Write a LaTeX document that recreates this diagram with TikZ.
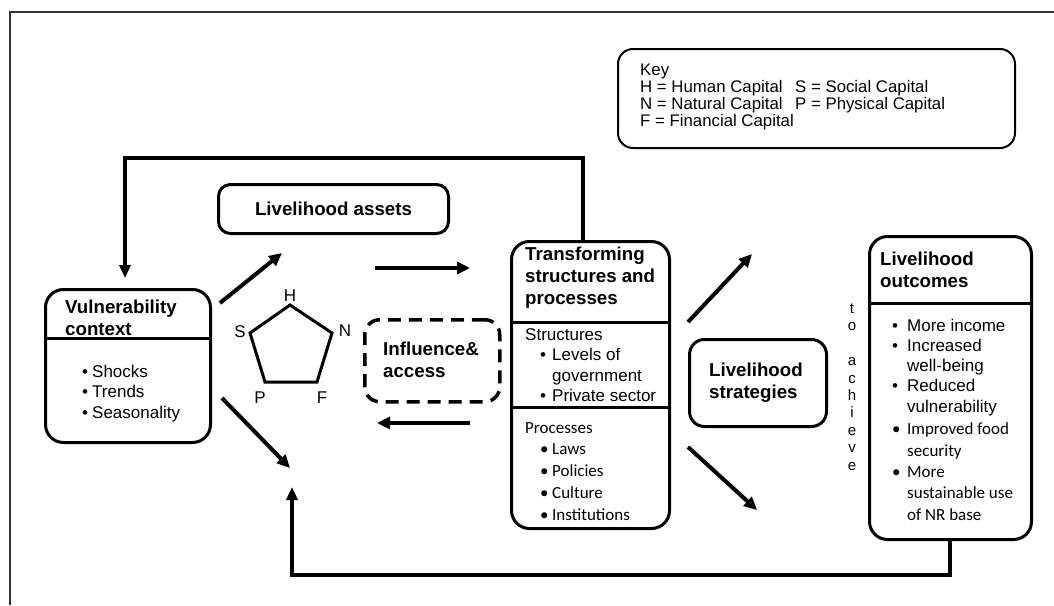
\documentclass[tikz,border=0pt]{standalone}
\usepackage{fontspec}
\setmainfont{Liberation Sans}
\newfontfamily\calibfont{Carlito}
\usetikzlibrary{arrows.meta}

% bullet with a fixed-width slot so wrapped lines line up with the text
\newcommand\bulslot[1]{\makebox[#1][l]{\textbullet}}

\begin{document}
% multi-line text nodes are placed by the baseline of their last line
\begin{tikzpicture}[x=1pt,y=-1pt,
  box/.style={draw, line width=3pt, rounded corners=18pt, inner sep=0pt, anchor=north west},
  title/.style={font=\fontsize{18.7}{22}\selectfont\bfseries, align=left, anchor=base west, inner sep=0pt},
  body/.style={font=\fontsize{17}{20.5}\selectfont, align=left, anchor=base west, inner sep=0pt},
  calbody/.style={font=\calibfont\fontsize{17}{21.8}\selectfont, align=left, anchor=base west, inner sep=0pt},
  keytxt/.style={font=\fontsize{16.8}{17}\selectfont, align=left, anchor=base west, inner sep=0pt},
  letter/.style={font=\fontsize{17}{17}\selectfont, inner sep=0pt},
  flow/.style={line width=4pt, -{Triangle[length=13pt,width=12pt]}},
  loopline/.style={line width=3.5pt, line join=miter, -{Triangle[length=13pt,width=11pt]}},
  divider/.style={line width=3pt},
]
\useasboundingbox (0,0) rectangle (1054,605);

% outer frame
\draw[line width=1.6pt, black!80] (10,605) -- (10,12) -- (1054,12);

% ---------- key ----------
\node[box, line width=2pt, rounded corners=15pt, minimum width=397pt, minimum height=99pt] (key) at (617,48) {};
\node[keytxt] (keyL) at (640,126) {Key\\H = Human Capital\\N = Natural Capital\\F = Financial Capital};
\node[keytxt] (keyR) at (795,109) {S = Social Capital\\P = Physical Capital};

% ---------- vulnerability context ----------
\node[box, minimum width=165pt, minimum height=153pt] (vuln) at (44,288) {};
\node[title] (vulnT) at (65,335) {Vulnerability\\context};
\coordinate (vdiv) at (0,338);
\draw[divider] (vuln.west |- vdiv) -- (vuln.east |- vdiv);
\node[body] (vulnL) at (82,418) {\bulslot{10pt}Shocks\\\bulslot{10pt}Trends\\\bulslot{10pt}Seasonality};

% ---------- livelihood assets ----------
\node[box, rounded corners=12pt, minimum width=230pt, minimum height=49pt,
      font=\fontsize{18.7}{22}\selectfont\bfseries] (assets) at (217,183) {Livelihood assets};

% asset pentagon
\coordinate (pH) at (290,305);
\coordinate (pN) at (332,333);
\coordinate (pF) at (317,382);
\coordinate (pP) at (265,382);
\coordinate (pS) at (250,333);
\draw[line width=3pt, line join=miter] (pH) -- (pN) -- (pF) -- (pP) -- (pS) -- cycle;
\node[letter] (lH) at (290,296) {H};
\node[letter] (lN) at (345,331) {N};
\node[letter] (lF) at (322,398) {F};
\node[letter] (lP) at (260,398) {P};
\node[letter] (lS) at (240,332) {S};

% ---------- influence & access ----------
\node[box, dash pattern=on 13pt off 8pt, line width=3.5pt, rounded corners=15pt,
      minimum width=135pt, minimum height=82pt] (infl) at (363,318) {};
\node[title] (inflT) at (383,377) {Influence\&\\access};

% ---------- transforming structures and processes ----------
\node[box, minimum width=158pt, minimum height=287pt] (trans) at (510,240) {};
\node[title] (transT) at (525,304) {Transforming\\structures and\\processes};
\coordinate (tdivA) at (0,322);
\coordinate (tdivB) at (0,407);
\draw[divider] (trans.west |- tdivA) -- (trans.east |- tdivA);
\draw[divider] (trans.west |- tdivB) -- (trans.east |- tdivB);
\node[body] (struct) at (525,401.5) {Structures\\
  \hspace*{15pt}\bulslot{12pt}Levels of\\
  \hspace*{15pt}\hspace*{12pt}government\\
  \hspace*{15pt}\bulslot{12pt}Private sector};
\node[calbody] (proc) at (525,520.2) {Processes\\
  \hspace*{15pt}\bulslot{12pt}Laws\\
  \hspace*{15pt}\bulslot{12pt}Policies\\
  \hspace*{15pt}\bulslot{12pt}Culture\\
  \hspace*{15pt}\bulslot{12pt}Institutions};

% ---------- livelihood strategies ----------
\node[box, rounded corners=15pt, minimum width=137pt, minimum height=87pt] (strat) at (688,338) {};
\node[title] (stratT) at (709,398) {Livelihood\\strategies};

% "to achieve", set one letter per line
\node[font=\fontsize{15}{17.4}\selectfont, align=center, anchor=base, inner sep=0pt] (achieve)
  at (852,470) {t\\o\\[17.4pt]a\\c\\h\\i\\e\\v\\e};

% ---------- livelihood outcomes ----------
\node[box, minimum width=162pt, minimum height=303pt] (outc) at (868,235) {};
\node[title] (outcT) at (880,287) {Livelihood\\outcomes};
\coordinate (odiv) at (0,303);
\draw[divider] (outc.west |- odiv) -- (outc.east |- odiv);
\node[body, font=\fontsize{17}{20.1}\selectfont] (outcA) at (892,412) {\bulslot{15pt}More income\\
  \bulslot{15pt}Increased\\\hspace*{15pt}well-being\\
  \bulslot{15pt}Reduced\\\hspace*{15pt}vulnerability};
\node[calbody, font=\calibfont\fontsize{17}{21.3}\selectfont] (outcB) at (892,520) {\bulslot{15pt}Improved food\\
  \hspace*{15pt}security\\
  \bulslot{15pt}More\\\hspace*{15pt}sustainable use\\\hspace*{15pt}of NR base};

% ---------- flow arrows ----------
\coordinate (a1s) at (220,303);  \coordinate (a1e) at (282,253);
\coordinate (a2s) at (222,398);  \coordinate (a2e) at (290,468);
\coordinate (a3s) at (375,268);  \coordinate (a3e) at (470,268);
\coordinate (a4s) at (470,423);  \coordinate (a4e) at (377,423);
\coordinate (a5s) at (688,322);  \coordinate (a5e) at (752,254);
\coordinate (a6s) at (688,447);  \coordinate (a6e) at (757,510);
\draw[flow] (a1s) -- (a1e);
\draw[flow] (a2s) -- (a2e);
\draw[flow] (a3s) -- (a3e);
\draw[flow] (a4s) -- (a4e);
\draw[flow] (a5s) -- (a5e);
\draw[flow] (a6s) -- (a6e);

% ---------- feedback loops ----------
\coordinate (topR) at (583,158);
\coordinate (topL) at (125,158);
\coordinate (vtip) at (125,278);
\draw[loopline] (trans.north -| topR) -- (topR) -- (topL) -- (vtip);

\coordinate (botR) at (950,575);
\coordinate (botL) at (292,575);
\coordinate (btip) at (292,487);
\draw[loopline] (outc.south -| botR) -- (botR) -- (botL) -- (btip);

\end{tikzpicture}
\end{document}
